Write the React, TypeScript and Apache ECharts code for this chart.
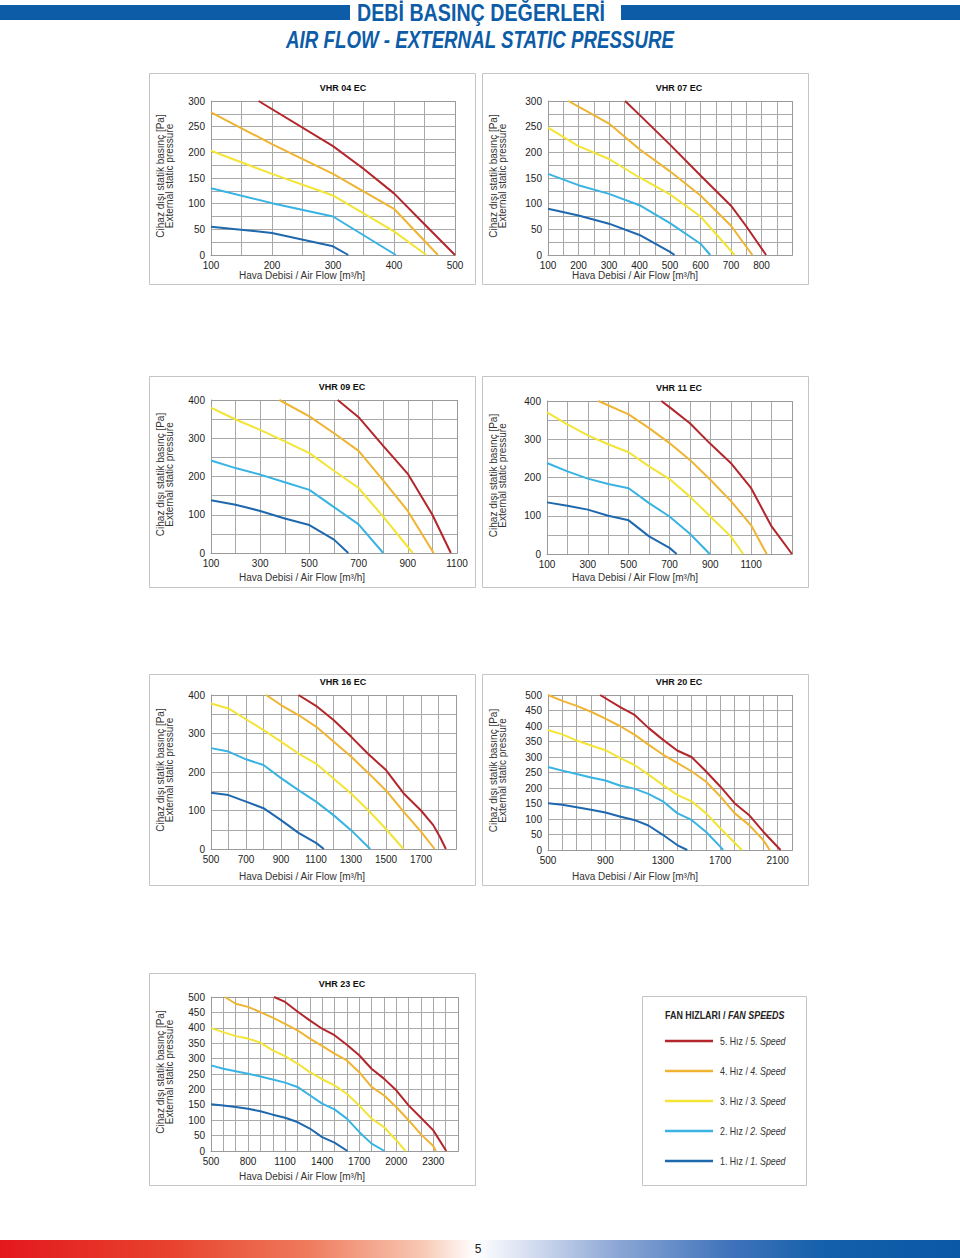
import React, { useEffect, useRef } from "react";
import * as echarts from "echarts";

type Pt = [number, number];

// ---------- legend / series identity ----------
const speedTr = ["5. Hız / ", "4. Hız / ", "3. Hız / ", "2. Hız / ", "1. Hız / "];
const speedEn = ["5. Speed", "4. Speed", "3. Speed", "2. Speed", "1. Speed"];
const speedColors = ["#b3262b", "#efb431", "#f3e435", "#38b3e3", "#1f68ad"];

// ---------- VHR 04 EC ----------
const vhr04XTicks = [100, 200, 300, 400, 500];
const vhr04YTicks = [0, 50, 100, 150, 200, 250, 300];
const vhr04S5: Pt[] = [[178, 300], [300, 212], [350, 168], [400, 120], [450, 60], [500, 0]];
const vhr04S4: Pt[] = [[100, 278], [200, 216], [300, 158], [400, 90], [472, 0]];
const vhr04S3: Pt[] = [[100, 203], [200, 158], [300, 116], [400, 46], [453, 0]];
const vhr04S2: Pt[] = [[100, 130], [200, 101], [300, 75], [403, 0]];
const vhr04S1: Pt[] = [[100, 55], [200, 43], [300, 17], [325, 0]];

// ---------- VHR 07 EC ----------
const vhr07XTicks = [100, 200, 300, 400, 500, 600, 700, 800];
const vhr07YTicks = [0, 50, 100, 150, 200, 250, 300];
const vhr07S5: Pt[] = [[353, 300], [400, 273], [500, 215], [600, 155], [700, 96], [750, 56], [815, 0]];
const vhr07S4: Pt[] = [[167, 300], [200, 289], [300, 256], [400, 206], [500, 163], [600, 116], [700, 57], [770, 0]];
const vhr07S3: Pt[] = [[100, 248], [200, 212], [300, 187], [400, 151], [500, 118], [600, 75], [712, 0]];
const vhr07S2: Pt[] = [[100, 158], [200, 136], [300, 119], [400, 97], [500, 62], [600, 22], [632, 0]];
const vhr07S1: Pt[] = [[100, 90], [200, 77], [300, 61], [400, 39], [500, 6], [515, 0]];

// ---------- VHR 09 EC ----------
const vhr09XTicks = [100, 300, 500, 700, 900, 1100];
const vhr09YTicks = [0, 100, 200, 300, 400];
const vhr09S5: Pt[] = [[615, 400], [700, 355], [800, 280], [900, 207], [1000, 100], [1075, 0]];
const vhr09S4: Pt[] = [[378, 400], [500, 357], [600, 313], [700, 267], [800, 190], [900, 110], [1005, 0]];
const vhr09S3: Pt[] = [[100, 380], [200, 349], [300, 322], [400, 292], [500, 261], [600, 215], [700, 170], [800, 95], [920, 0]];
const vhr09S2: Pt[] = [[100, 242], [200, 222], [300, 205], [400, 185], [500, 165], [600, 120], [700, 75], [800, 0]];
const vhr09S1: Pt[] = [[100, 138], [200, 126], [300, 110], [400, 90], [500, 73], [600, 35], [658, 0]];

// ---------- VHR 11 EC ----------
const vhr11XTicks = [100, 300, 500, 700, 900, 1100];
const vhr11YTicks = [0, 100, 200, 300, 400];
const vhr11S5: Pt[] = [[660, 400], [700, 384], [800, 342], [900, 288], [1000, 238], [1100, 172], [1200, 72], [1300, 0]];
const vhr11S4: Pt[] = [[352, 400], [500, 365], [600, 329], [700, 290], [800, 246], [900, 194], [1000, 139], [1100, 75], [1176, 0]];
const vhr11S3: Pt[] = [[100, 370], [200, 339], [300, 310], [400, 287], [500, 266], [600, 229], [700, 196], [800, 150], [900, 98], [1000, 46], [1061, 0]];
const vhr11S2: Pt[] = [[100, 238], [200, 216], [300, 197], [400, 183], [500, 172], [600, 133], [700, 98], [800, 53], [897, 0]];
const vhr11S1: Pt[] = [[100, 135], [200, 126], [300, 116], [400, 100], [500, 88], [600, 46], [700, 16], [735, 0]];

// ---------- VHR 16 EC ----------
const vhr16XTicks = [500, 700, 900, 1100, 1300, 1500, 1700];
const vhr16YTicks = [0, 100, 200, 300, 400];
const vhr16S5: Pt[] = [[1000, 400], [1100, 372], [1200, 335], [1300, 292], [1400, 246], [1500, 205], [1600, 145], [1700, 100], [1770, 62], [1810, 30], [1842, 0]];
const vhr16S4: Pt[] = [[815, 400], [900, 374], [1000, 348], [1100, 318], [1200, 279], [1300, 240], [1400, 197], [1500, 152], [1600, 97], [1700, 45], [1778, 0]];
const vhr16S3: Pt[] = [[500, 378], [600, 365], [700, 337], [800, 309], [900, 279], [1000, 248], [1100, 222], [1200, 183], [1300, 144], [1400, 100], [1500, 52], [1600, 0]];
const vhr16S2: Pt[] = [[500, 262], [600, 253], [700, 233], [800, 218], [900, 184], [1000, 153], [1100, 123], [1200, 88], [1300, 49], [1410, 0]];
const vhr16S1: Pt[] = [[500, 146], [600, 140], [700, 123], [800, 106], [900, 75], [1000, 42], [1100, 16], [1145, 0]];

// ---------- VHR 20 EC ----------
const vhr20XTicks = [500, 900, 1300, 1700, 2100];
const vhr20YTicks = [0, 50, 100, 150, 200, 250, 300, 350, 400, 450, 500];
const vhr20S5: Pt[] = [[863, 500], [1000, 462], [1100, 437], [1200, 394], [1300, 356], [1400, 321], [1500, 300], [1600, 254], [1700, 205], [1800, 151], [1900, 113], [2000, 59], [2120, 0]];
const vhr20S4: Pt[] = [[500, 500], [600, 481], [700, 465], [800, 446], [900, 424], [1000, 400], [1100, 373], [1200, 340], [1300, 308], [1400, 281], [1500, 254], [1600, 221], [1700, 173], [1800, 119], [1900, 81], [2000, 32], [2045, 0]];
const vhr20S3: Pt[] = [[500, 387], [600, 373], [700, 353], [800, 337], [900, 322], [1000, 297], [1100, 275], [1200, 243], [1300, 210], [1400, 178], [1500, 157], [1600, 119], [1700, 70], [1850, 0]];
const vhr20S2: Pt[] = [[500, 268], [600, 256], [700, 245], [800, 234], [900, 224], [1000, 208], [1100, 198], [1200, 181], [1300, 157], [1400, 119], [1500, 97], [1600, 59], [1700, 11], [1720, 0]];
const vhr20S1: Pt[] = [[500, 151], [600, 146], [700, 138], [800, 130], [900, 121], [1000, 108], [1100, 97], [1200, 79], [1300, 49], [1400, 16], [1470, 0]];

// ---------- VHR 23 EC ----------
const vhr23XTicks = [500, 800, 1100, 1400, 1700, 2000, 2300];
const vhr23YTicks = [0, 50, 100, 150, 200, 250, 300, 350, 400, 450, 500];
const vhr23S5: Pt[] = [[1011, 500], [1100, 484], [1200, 453], [1300, 424], [1400, 397], [1500, 376], [1600, 345], [1700, 311], [1800, 267], [1900, 235], [2000, 197], [2100, 148], [2200, 108], [2300, 67], [2405, 0]];
const vhr23S4: Pt[] = [[613, 500], [700, 478], [800, 468], [900, 451], [1000, 433], [1100, 413], [1200, 392], [1300, 365], [1400, 341], [1500, 316], [1600, 294], [1700, 256], [1800, 208], [1900, 181], [2000, 143], [2100, 100], [2200, 54], [2300, 16], [2320, 0]];
const vhr23S3: Pt[] = [[500, 399], [600, 386], [700, 373], [800, 365], [900, 352], [1000, 327], [1100, 308], [1200, 284], [1300, 256], [1400, 233], [1500, 213], [1600, 186], [1700, 148], [1800, 105], [1900, 78], [2000, 35], [2075, 0]];
const vhr23S2: Pt[] = [[500, 278], [600, 267], [700, 259], [800, 251], [900, 242], [1000, 232], [1100, 222], [1200, 208], [1300, 181], [1400, 154], [1500, 135], [1600, 105], [1700, 62], [1800, 24], [1905, 0]];
const vhr23S1: Pt[] = [[500, 152], [600, 148], [700, 143], [800, 137], [900, 129], [1000, 118], [1100, 108], [1200, 94], [1300, 73], [1400, 45], [1500, 27], [1605, 0]];

// ---------- chart layout (positions/styles only) ----------
interface ChartSpec {
  title: string;
  box: [number, number, number, number];
  grid: [number, number, number, number];
  xMin: number; xMax: number; xStep: number; xTicks: number[];
  yMax: number; yStep: number; yTicks: number[];
  curves: Pt[][];
  nameY: number;
  titleX: number;
}

const charts: ChartSpec[] = [
  { title: "VHR 04 EC", box: [149, 73, 326, 211], grid: [211, 101, 244, 154], xMin: 100, xMax: 500, xStep: 50, xTicks: vhr04XTicks, yMax: 300, yStep: 25, yTicks: vhr04YTicks, curves: [vhr04S5, vhr04S4, vhr04S3, vhr04S2, vhr04S1], nameY: 275, titleX: 343 },
  { title: "VHR 07 EC", box: [482, 73, 326, 211], grid: [548, 101, 244, 154], xMin: 100, xMax: 900, xStep: 50, xTicks: vhr07XTicks, yMax: 300, yStep: 25, yTicks: vhr07YTicks, curves: [vhr07S5, vhr07S4, vhr07S3, vhr07S2, vhr07S1], nameY: 275, titleX: 679 },
  { title: "VHR 09 EC", box: [149, 376, 326, 211], grid: [211, 400, 246, 153], xMin: 100, xMax: 1100, xStep: 100, xTicks: vhr09XTicks, yMax: 400, yStep: 50, yTicks: vhr09YTicks, curves: [vhr09S5, vhr09S4, vhr09S3, vhr09S2, vhr09S1], nameY: 577, titleX: 342 },
  { title: "VHR 11 EC", box: [482, 376, 326, 211], grid: [547, 401, 245, 153], xMin: 100, xMax: 1300, xStep: 100, xTicks: vhr11XTicks, yMax: 400, yStep: 50, yTicks: vhr11YTicks, curves: [vhr11S5, vhr11S4, vhr11S3, vhr11S2, vhr11S1], nameY: 577, titleX: 679 },
  { title: "VHR 16 EC", box: [149, 674, 326, 211], grid: [211, 695, 245, 154], xMin: 500, xMax: 1900, xStep: 100, xTicks: vhr16XTicks, yMax: 400, yStep: 50, yTicks: vhr16YTicks, curves: [vhr16S5, vhr16S4, vhr16S3, vhr16S2, vhr16S1], nameY: 876, titleX: 343 },
  { title: "VHR 20 EC", box: [482, 674, 326, 211], grid: [548, 695, 244, 155], xMin: 500, xMax: 2200, xStep: 100, xTicks: vhr20XTicks, yMax: 500, yStep: 50, yTicks: vhr20YTicks, curves: [vhr20S5, vhr20S4, vhr20S3, vhr20S2, vhr20S1], nameY: 876, titleX: 679 },
  { title: "VHR 23 EC", box: [149, 973, 326, 212], grid: [211, 997, 247, 154], xMin: 500, xMax: 2500, xStep: 100, xTicks: vhr23XTicks, yMax: 500, yStep: 50, yTicks: vhr23YTicks, curves: [vhr23S5, vhr23S4, vhr23S3, vhr23S2, vhr23S1], nameY: 1176, titleX: 342 },
];

const ARIAL = "'Liberation Sans', Arial, sans-serif";
const NARROW = "'Liberation Sans Narrow', 'Arial Narrow', 'Liberation Sans', sans-serif";
const BLUE = "#0d5ca8";

export default function App() {
  const ref = useRef<HTMLDivElement>(null);

  useEffect(() => {
    if (!ref.current) return;
    const chart = echarts.init(ref.current, undefined, { renderer: "svg", width: 960, height: 1258 });

    const grids: any[] = [];
    const xAxes: any[] = [];
    const yAxes: any[] = [];
    const series: any[] = [];
    const graphic: any[] = [];

    // header
    graphic.push(
      { type: "rect", shape: { x: 0, y: 5, width: 350, height: 15 }, style: { fill: BLUE } },
      { type: "rect", shape: { x: 621, y: 5, width: 339, height: 15 }, style: { fill: BLUE } },
      { type: "text", x: 481, y: 13, scaleX: 0.82, style: { text: "DEBİ BASINÇ DEĞERLERİ", fill: BLUE, font: `bold 24px ${NARROW}`, align: "center", verticalAlign: "middle" } },
      { type: "text", x: 480, y: 40, scaleX: 0.78, style: { text: "AIR FLOW - EXTERNAL STATIC PRESSURE", fill: BLUE, font: `italic bold 24px ${NARROW}`, align: "center", verticalAlign: "middle" } }
    );

    charts.forEach((c, i) => {
      const [gl, gt, gw, gh] = c.grid;
      grids.push({ left: gl, top: gt, width: gw, height: gh, containLabel: false, show: false });
      const xt = c.xTicks;
      const yt = c.yTicks;
      xAxes.push({
        type: "value", gridIndex: i, min: c.xMin, max: c.xMax, interval: c.xStep,
        axisLine: { show: true, onZero: false, lineStyle: { color: "#9a9a9a", width: 1 } },
        axisTick: { show: false },
        splitLine: { show: true, lineStyle: { color: "#a9a9a9", width: 1 } },
        axisLabel: {
          margin: 5, fontSize: 10, fontFamily: ARIAL, color: "#222",
          showMaxLabel: true, showMinLabel: true,
          formatter: (v: number) => (xt.includes(Math.round(v)) ? String(Math.round(v)) : ""),
        },
      });
      yAxes.push({
        type: "value", gridIndex: i, min: 0, max: c.yMax, interval: c.yStep,
        axisLine: { show: true, lineStyle: { color: "#9a9a9a", width: 1 } },
        axisTick: { show: false },
        splitLine: { show: true, lineStyle: { color: "#a9a9a9", width: 1 } },
        axisLabel: {
          margin: 6, fontSize: 10, fontFamily: ARIAL, color: "#222",
          showMaxLabel: true, showMinLabel: true,
          formatter: (v: number) => (yt.includes(Math.round(v)) ? String(Math.round(v)) : ""),
        },
      });
      c.curves.forEach((pts, k) => {
        series.push({
          type: "line", name: speedTr[k] + speedEn[k], xAxisIndex: i, yAxisIndex: i,
          data: pts, showSymbol: false, symbol: "none", smooth: false, clip: true,
          lineStyle: { color: speedColors[k], width: 2 }, z: 10 - k,
        });
      });
      const [bx, by, bw, bh] = c.box;
      graphic.push(
        { type: "rect", shape: { x: bx + 0.5, y: by + 0.5, width: bw, height: bh }, style: { fill: "none", stroke: "#c4c4c4", lineWidth: 1 } },
        { type: "rect", shape: { x: gl + 0.5, y: gt + 0.5, width: gw, height: gh }, style: { fill: "none", stroke: "#9a9a9a", lineWidth: 1 }, z: 1 },
        { type: "text", x: c.titleX, y: gt - 13, style: { text: c.title, fill: "#111", font: `bold 9px ${ARIAL}`, align: "center", verticalAlign: "middle" } },
        { type: "text", x: bx + 153, y: c.nameY, style: { text: "Hava Debisi / Air Flow [m³/h]", fill: "#333", font: `10px ${NARROW}`, align: "center", verticalAlign: "middle" } },
        { type: "text", x: bx + 11, y: gt + gh / 2 - 2, rotation: Math.PI / 2, style: { text: "Cihaz dışı statik basınç [Pa]", fill: "#333", font: `10px ${NARROW}`, align: "center", verticalAlign: "middle" } },
        { type: "text", x: bx + 20, y: gt + gh / 2 - 2, rotation: Math.PI / 2, style: { text: "External static pressure", fill: "#333", font: `10px ${NARROW}`, align: "center", verticalAlign: "middle" } }
      );
    });

    // legend box
    graphic.push(
      { type: "rect", shape: { x: 642.5, y: 996.5, width: 164, height: 189 }, style: { fill: "none", stroke: "#c4c4c4", lineWidth: 1 } },
      {
        type: "text", x: 665, y: 1015, scaleX: 0.85,
        style: {
          text: "{a|FAN HIZLARI / }{b|FAN SPEEDS}", verticalAlign: "middle", align: "left",
          rich: {
            a: { fontFamily: NARROW, fontWeight: "bold", fontSize: 10.5, fill: "#222" },
            b: { fontFamily: NARROW, fontWeight: "bold", fontStyle: "italic", fontSize: 10.5, fill: "#222" },
          },
        },
      }
    );
    speedTr.forEach((tr, k) => {
      const yy = 1041 + k * 30;
      graphic.push(
        { type: "line", shape: { x1: 665, y1: yy, x2: 713, y2: yy }, style: { stroke: speedColors[k], lineWidth: 2.5 } },
        {
          type: "text", x: 720, y: yy, scaleX: 0.88,
          style: {
            text: `{a|${tr}}{b|${speedEn[k]}}`, verticalAlign: "middle", align: "left",
            rich: {
              a: { fontFamily: NARROW, fontSize: 10, fill: "#333" },
              b: { fontFamily: NARROW, fontStyle: "italic", fontSize: 10, fill: "#333" },
            },
          },
        }
      );
    });

    // footer gradient band
    graphic.push(
      {
        type: "rect", shape: { x: 0, y: 1240, width: 960, height: 18 },
        style: {
          fill: {
            type: "linear", x: 0, y: 0, x2: 1, y2: 0,
            colorStops: [
              { offset: 0, color: "#e3181d" },
              { offset: 0.18, color: "#e8432f" },
              { offset: 0.32, color: "#ef7a5c" },
              { offset: 0.44, color: "#f8c8b4" },
              { offset: 0.495, color: "#ffffff" },
              { offset: 0.56, color: "#cfd9ee" },
              { offset: 0.64, color: "#8ea8d6" },
              { offset: 0.76, color: "#3f73bb" },
              { offset: 0.86, color: "#145fab" },
              { offset: 1, color: "#0a58a6" },
            ],
          },
        },
      },
      { type: "text", x: 478, y: 1249, style: { text: "5", fill: "#222", font: `12px ${NARROW}`, align: "center", verticalAlign: "middle" } }
    );

    chart.setOption({
      animation: false,
      backgroundColor: "#ffffff",
      grid: grids,
      xAxis: xAxes,
      yAxis: yAxes,
      series,
      graphic: { elements: graphic },
    });

    return () => chart.dispose();
  }, []);

  return <div ref={ref} style={{ position: "absolute", left: 0, top: 0, width: 960, height: 1258 }} />;
}
